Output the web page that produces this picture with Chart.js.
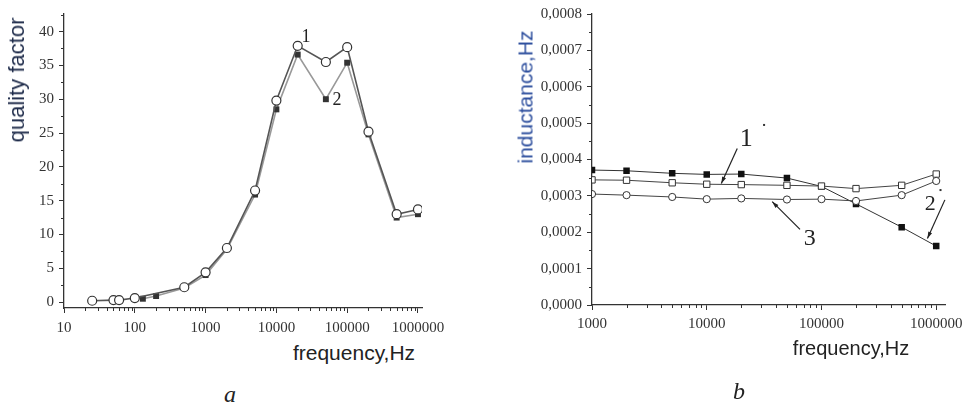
<!DOCTYPE html>
<html>
<head>
<meta charset="utf-8">
<script src="https://cdn.jsdelivr.net/npm/chart.js"></script>
<style>
html,body{margin:0;padding:0;background:#fff;width:968px;height:407px;overflow:hidden}
body{position:relative;font-family:"Liberation Sans",Arial,sans-serif}
canvas{position:absolute;top:0}
#ca{left:0}
#cb{left:490px}
.t{position:absolute;white-space:nowrap;transform:translate(-50%,-50%);line-height:1}
.v{transform:translate(-50%,-50%) rotate(-90deg)}
.cap{font-family:"Liberation Serif","Times New Roman",serif;font-style:italic;font-size:24px;color:#222}
</style>
</head>
<body>
<canvas id="ca" width="480" height="340"></canvas>
<canvas id="cb" width="478" height="340"></canvas>

<div class="t v" style="left:17px;top:80px;font-size:22px;color:#1e2b4a">quality factor</div>
<div class="t" style="left:354px;top:352px;font-size:21px;color:#222">frequency,Hz</div>
<div class="t v" style="left:525px;top:97px;font-size:21px;color:#2a4c9c">inductance,Hz</div>
<div class="t" style="left:851px;top:348px;font-size:20px;color:#222">frequency,Hz</div>
<div class="t cap" style="left:230px;top:394px">a</div>
<div class="t cap" style="left:739px;top:391px">b</div>

<script>
// chart a: quality factor
const freqA1=[25,50,60,100,500,1000,2000,5000,10000,20000,50000,100000,200000,500000,1000000];
const qA1=[0.2,0.3,0.3,0.6,2.2,4.4,8.0,16.5,29.8,37.9,35.5,37.7,25.2,13.0,13.7];
const freqA2=[130,200,500,1000,2000,5000,10000,20000,50000,100000,200000,500000,1000000];
const qA2=[0.5,0.9,2.1,4.0,7.8,15.9,28.5,36.6,30.0,35.4,24.8,12.5,13.0];
const xTicksA=[10,100,1000,10000,100000,1000000];
const yTicksA=[0,5,10,15,20,25,30,35,40];

// chart b: inductance
const freqB=[1000,2000,5000,10000,20000,50000,100000,200000,500000,1000000];
const indB1=[0.000344,0.000343,0.000336,0.000332,0.000331,0.000329,0.000327,0.000320,0.000329,0.000360];
const indB2=[0.000371,0.000369,0.000362,0.000359,0.000360,0.000349,0.000326,0.000278,0.000214,0.000162];
const indB3=[0.000305,0.000302,0.000297,0.000291,0.000293,0.000290,0.000291,0.000286,0.000302,0.000341];
const xTicksB=[1000,10000,100000,1000000];
const yTicksB=[0,0.0001,0.0002,0.0003,0.0004,0.0005,0.0006,0.0007,0.0008];

const pts=(xs,ys)=>xs.map((x,i)=>({x:x,y:ys[i]}));
const serif='"Liberation Serif","Times New Roman",serif';

function logMinors(min,max){
  const out=[];
  for(let d=Math.floor(Math.log10(min));d<=Math.ceil(Math.log10(max));d++){
    for(let k=2;k<=9;k++){const v=k*Math.pow(10,d); if(v>min&&v<max) out.push(v);}
  }
  return out;
}

const extras={
  id:'extras',
  afterDraw(chart,args,o){
    const ctx=chart.ctx, xs=chart.scales.x, ys=chart.scales.y;
    ctx.save();
    ctx.strokeStyle='#333'; ctx.lineWidth=1;
    (o.minorX||[]).forEach(v=>{
      const p=Math.round(xs.getPixelForValue(v))+0.5;
      ctx.beginPath(); ctx.moveTo(p,xs.top); ctx.lineTo(p,xs.top+3); ctx.stroke();
    });
    (o.minorY||[]).forEach(v=>{
      const p=Math.round(ys.getPixelForValue(v))+0.5;
      ctx.beginPath(); ctx.moveTo(ys.right,p); ctx.lineTo(ys.right-3,p); ctx.stroke();
    });
    (o.lines||[]).forEach(l=>{
      const x1=xs.getPixelForValue(l.x1), y1=ys.getPixelForValue(l.y1);
      const x2=xs.getPixelForValue(l.x2), y2=ys.getPixelForValue(l.y2);
      ctx.strokeStyle='#222'; ctx.lineWidth=1.2;
      ctx.beginPath(); ctx.moveTo(x1,y1); ctx.lineTo(x2,y2); ctx.stroke();
      const a=Math.atan2(y2-y1,x2-x1), h=7;
      ctx.fillStyle='#222';
      ctx.beginPath(); ctx.moveTo(x2,y2);
      ctx.lineTo(x2-h*Math.cos(a-0.3),y2-h*Math.sin(a-0.3));
      ctx.lineTo(x2-h*Math.cos(a+0.3),y2-h*Math.sin(a+0.3));
      ctx.closePath(); ctx.fill();
    });
    (o.dots||[]).forEach(d=>{
      ctx.fillStyle='#333';
      ctx.fillRect(xs.getPixelForValue(d.x)-1,ys.getPixelForValue(d.y)-1,2,2);
    });
    ctx.textAlign='center'; ctx.textBaseline='middle'; ctx.fillStyle='#222';
    (o.labels||[]).forEach(l=>{
      ctx.font=l.size+'px '+serif;
      ctx.fillText(l.t,xs.getPixelForValue(l.x),ys.getPixelForValue(l.y));
    });
    ctx.restore();
  }
};

function axisX(min,max,ticks,h,pad){
  return {type:'logarithmic',min:min,max:max,
    afterBuildTicks:s=>{s.ticks=ticks.map(v=>({value:v}));},
    afterFit:s=>{s.height=h;},
    border:{display:true,color:'#333',width:1.3},
    grid:{drawOnChartArea:false,color:'#333',tickLength:5},
    ticks:{color:'#333',font:{family:serif,size:15},padding:pad,maxRotation:0,autoSkip:false,
      callback:v=>String(v)}};
}
function axisY(min,max,ticks,w,fmt){
  return {type:'linear',min:min,max:max,
    afterBuildTicks:s=>{s.ticks=ticks.map(v=>({value:v}));},
    afterFit:s=>{s.width=w;},
    border:{display:true,color:'#333',width:1.3},
    grid:{drawOnChartArea:false,color:'#333',tickLength:5},
    ticks:{color:'#333',font:{family:serif,size:15},padding:5,autoSkip:false,callback:fmt}};
}

const base={responsive:false,animation:false,events:[],
  plugins:{legend:{display:false},tooltip:{enabled:false}}};

new Chart(document.getElementById('ca'),{
  type:'line',
  data:{datasets:[
    {data:pts(freqA1,qA1),borderColor:'#555',borderWidth:1.6,pointStyle:'circle',pointRadius:4.5,
     pointBackgroundColor:'#fff',pointBorderColor:'#333',pointBorderWidth:1.2,tension:0},
    {data:pts(freqA2,qA2),borderColor:'#999',borderWidth:1.6,pointStyle:'rect',pointRadius:4.2,
     pointBackgroundColor:'#333',pointBorderColor:'#333',pointBorderWidth:0,tension:0}
  ]},
  options:Object.assign({},base,{
    layout:{padding:{left:0,right:58,top:9,bottom:0}},
    scales:{
      x:axisX(10,1140000,xTicksA,32,6),
      y:axisY(-0.87,42.6,yTicksA,64,v=>String(v))
    },
    plugins:Object.assign({},base.plugins,{extras:{
      minorX:logMinors(10,1140000),
      minorY:[2.5,7.5,12.5,17.5,22.5,27.5,32.5,37.5,42.5],
      labels:[{t:'1',x:26300,y:39.2,size:18},{t:'2',x:72000,y:29.8,size:18}]
    }})
  }),
  plugins:[extras]
});

new Chart(document.getElementById('cb'),{
  type:'line',
  data:{datasets:[
    {data:pts(freqB,indB3),borderColor:'#444',borderWidth:1,pointStyle:'circle',pointRadius:3.6,
     pointBackgroundColor:'#fff',pointBorderColor:'#333',pointBorderWidth:1,tension:0},
    {data:pts(freqB,indB1),borderColor:'#444',borderWidth:1,pointStyle:'rect',pointRadius:4.5,
     pointBackgroundColor:'#fff',pointBorderColor:'#333',pointBorderWidth:1,tension:0},
    {data:pts(freqB,indB2),borderColor:'#333',borderWidth:1,pointStyle:'rect',pointRadius:4.6,
     pointBackgroundColor:'#111',pointBorderColor:'#111',pointBorderWidth:0,tension:0}
  ]},
  options:Object.assign({},base,{
    layout:{padding:{left:0,right:21,top:9,bottom:0}},
    scales:{
      x:axisX(1000,1197000,xTicksB,35,5),
      y:axisY(0,0.0008,yTicksB,102,v=>v.toFixed(4).replace('.',','))
    },
    plugins:Object.assign({},base.plugins,{extras:{
      minorX:logMinors(1000,1197000),
      minorY:[0.00005,0.00015,0.00025,0.00035,0.00045,0.00055,0.00065,0.00075],
      lines:[
        {x1:18450,y1:0.000430,x2:13400,y2:0.000334},
        {x1:1190000,y1:0.000289,x2:838000,y2:0.000183},
        {x1:65000,y1:0.000208,x2:37200,y2:0.000284}
      ],
      dots:[{x:31600,y:0.000495},{x:1090000,y:0.000316}],
      labels:[{t:'1',x:22100,y:0.000457,size:26},{t:'2',x:889000,y:0.000276,size:22},
              {t:'3',x:79200,y:0.000181,size:24}]
    }})
  }),
  plugins:[extras]
});
</script>
</body>
</html>
